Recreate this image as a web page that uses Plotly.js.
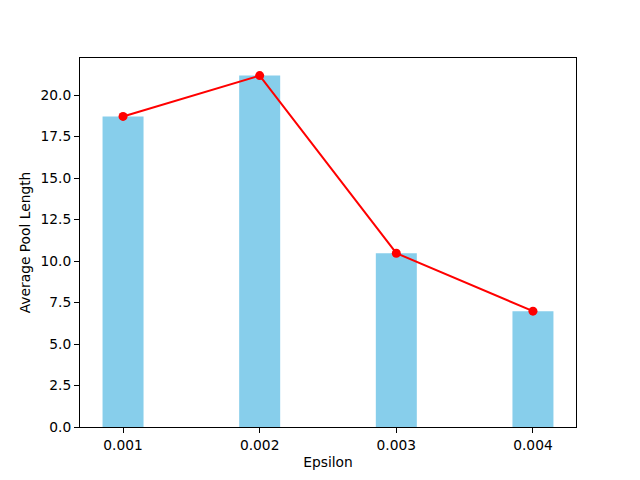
<!DOCTYPE html>
<html>
<head>
<meta charset="utf-8">
<script src="https://cdn.plot.ly/plotly-3.0.1.min.js"></script>
<style>
  body { margin: 0; }
  #chart { width: 640px; height: 480px; }
</style>
</head>
<body>
<div id="chart"></div>
<script>
// epsilon values and the average pool length measured for each
var epsilons = ["0.001", "0.002", "0.003", "0.004"];
var positions = [0, 1, 2, 3];
var poolLength = [18.71, 21.17, 10.47, 6.98];
var yTicks = [0, 2.5, 5, 7.5, 10, 12.5, 15, 17.5, 20];

var bars = {
  x: positions,
  y: poolLength,
  type: "bar",
  width: 0.3,
  marker: { color: "#87CEEB" },
  hoverinfo: "y"
};

var line = {
  x: positions,
  y: poolLength,
  mode: "lines+markers",
  line: { color: "red", width: 2 },
  marker: { color: "red", size: 9 }
};

var axisStyle = {
  showline: true,
  mirror: true,
  linecolor: "black",
  linewidth: 1,
  ticks: "outside",
  ticklen: 5,
  tickcolor: "black",
  showgrid: false,
  zeroline: false,
  tickfont: { size: 13.8, color: "black" }
};

var layout = {
  width: 640,
  height: 480,
  margin: { l: 80, r: 64, t: 58, b: 53 },
  paper_bgcolor: "white",
  plot_bgcolor: "white",
  showlegend: false,
  font: { family: "DejaVu Sans", color: "black", size: 13.8 },
  xaxis: Object.assign({}, axisStyle, {
    range: [-0.315, 3.315],
    tickvals: positions,
    ticktext: epsilons,
    title: { text: "Epsilon", font: { size: 13.8 }, standoff: 5 }
  }),
  yaxis: Object.assign({}, axisStyle, {
    range: [0, 22.23],
    tickvals: yTicks,
    ticktext: yTicks.map(function (v) { return v.toFixed(1); }),
    title: { text: "Average Pool Length", font: { size: 13.8 }, standoff: 6 }
  })
};

Plotly.newPlot("chart", [bars, line], layout, { displayModeBar: false, staticPlot: true });
</script>
</body>
</html>
